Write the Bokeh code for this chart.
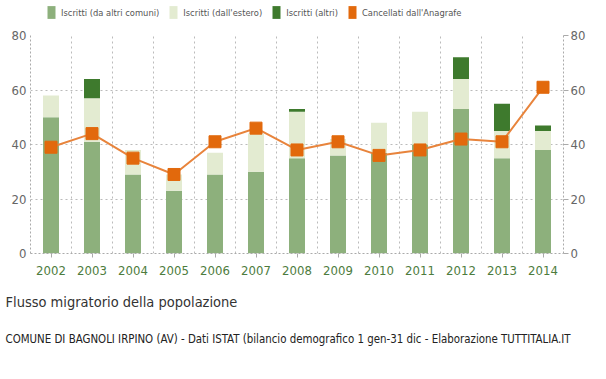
from bokeh.plotting import figure
from bokeh.layouts import column
from bokeh.models import (FixedTicker, LinearAxis, Legend, LegendItem, Title,
                          ColumnDataSource, Range1d)
from bokeh.embed import file_html
from bokeh.resources import INLINE

years = [2002, 2003, 2004, 2005, 2006, 2007, 2008, 2009, 2010, 2011, 2012, 2013, 2014]
iscritti_comuni = [50, 41, 29, 23, 29, 30, 35, 36, 37, 40, 53, 35, 38]
iscritti_estero = [8, 16, 9, 6, 8, 14, 17, 6, 11, 12, 11, 10, 7]
iscritti_altri = [0, 7, 0, 0, 0, 0, 1, 0, 0, 0, 8, 10, 2]
cancellati = [39, 44, 35, 29, 41, 46, 38, 41, 36, 38, 42, 41, 61]
y_ticks = [0, 20, 40, 60, 80]
labels = ["Iscritti (da altri comuni)", "Iscritti (dall'estero)",
          "Iscritti (altri)", "Cancellati dall'Anagrafe"]

FONT = "DejaVu Sans Condensed"
COLORS = ["#8db07c", "#e3ebd1", "#3e7a2d", "#e2690c"]
C1, C2, C3, C4 = COLORS

# ---------------- legend strip ----------------
lg = figure(width=600, height=27, output_backend="svg", toolbar_location=None,
            x_range=Range1d(0, 1), y_range=Range1d(0, 1),
            x_axis_type=None, y_axis_type=None, min_border=0,
            outline_line_color=None, background_fill_color="white",
            border_fill_color="white")
lg.xgrid.visible = False
lg.ygrid.visible = False
proxy_src = ColumnDataSource(dict(x=[-5], top=[-5]))
proxies = [lg.vbar(x="x", top="top", width=0.1, source=proxy_src,
                   fill_color=c, line_color=None) for c in COLORS]
legend = Legend(items=[LegendItem(label=l, renderers=[r]) for l, r in zip(labels, proxies)],
                orientation="horizontal", location=(16, 7), glyph_width=10,
                glyph_height=16, label_text_font=FONT, label_text_font_size="9.3px",
                label_text_color="#555555", label_standoff=5, spacing=9, padding=0,
                margin=0, border_line_color=None, background_fill_alpha=0,
                label_height=16)
lg.add_layout(legend)

# ---------------- main chart ----------------
src = ColumnDataSource(dict(x=years, a=iscritti_comuni, b=iscritti_estero,
                            c=iscritti_altri, d=cancellati))

p = figure(width=600, height=341, output_backend="svg", toolbar_location=None,
           x_range=Range1d(years[0] - 0.5, years[-1] + 0.5), y_range=Range1d(0, 80),
           min_border_left=30, min_border_right=37, min_border_top=8,
           min_border_bottom=115, background_fill_color="white",
           border_fill_color="white", outline_line_color=None)

p.vbar_stack(["a", "b", "c"], x="x", width=0.39, source=src,
             color=[C1, C2, C3], line_color=None)
p.line("x", "d", source=src, line_color="#e8843c", line_width=2)
p.scatter("x", "d", source=src, marker="square", size=12,
          fill_color=C4, line_color=C4)

for ax in [p.xaxis[0], p.yaxis[0]]:
    ax.axis_line_color = "#aaaaaa"
    ax.axis_line_dash = "2 2"
    ax.minor_tick_line_color = None
    ax.major_label_text_font = FONT

p.xaxis.ticker = FixedTicker(ticks=years)
p.xaxis.major_label_text_color = "#4d7c3d"
p.xaxis.major_label_text_font_size = "13px"
p.xaxis.major_tick_out = 4
p.xaxis.major_tick_in = 0
p.xaxis.major_tick_line_color = "#aaaaaa"
p.xaxis.major_label_standoff = 8

p.yaxis.ticker = FixedTicker(ticks=y_ticks)
p.yaxis.major_label_text_color = "#666666"
p.yaxis.major_label_text_font_size = "13px"
p.yaxis.major_tick_out = 0
p.yaxis.major_tick_in = 0
p.yaxis.major_label_standoff = 4

ry = LinearAxis(ticker=FixedTicker(ticks=y_ticks))
ry.axis_line_color = "#aaaaaa"
ry.axis_line_dash = "2 2"
ry.minor_tick_line_color = None
ry.major_tick_out = 5
ry.major_tick_in = 0
ry.major_tick_line_color = "#aaaaaa"
ry.major_label_text_font = FONT
ry.major_label_text_font_size = "13px"
ry.major_label_text_color = "#666666"
ry.major_label_standoff = 2
p.add_layout(ry, "right")

p.xgrid.ticker = FixedTicker(ticks=[y + 0.5 for y in years[:-1]])
p.xgrid.grid_line_color = "#bbbbbb"
p.xgrid.grid_line_dash = "2 3"
p.ygrid.ticker = FixedTicker(ticks=y_ticks[1:])
p.ygrid.grid_line_color = "#bbbbbb"
p.ygrid.grid_line_dash = "2 3"

t2 = Title(text="COMUNE DI BAGNOLI IRPINO (AV) - Dati ISTAT (bilancio demografico 1 gen-31 dic - Elaborazione TUTTITALIA.IT",
           align="left", text_font=FONT, text_font_size="11.4px", text_font_style="normal",
           text_color="#222222", standoff=11, offset=-25)
t1 = Title(text="Flusso migratorio della popolazione", align="left", text_font=FONT,
           text_font_size="14.5px", text_font_style="normal", text_color="#333333",
           standoff=29, offset=-25)
p.add_layout(t1, "below")
p.add_layout(t2, "below")

layout = column(lg, p, spacing=0)
open("out.html", "w").write(file_html(layout, INLINE))
